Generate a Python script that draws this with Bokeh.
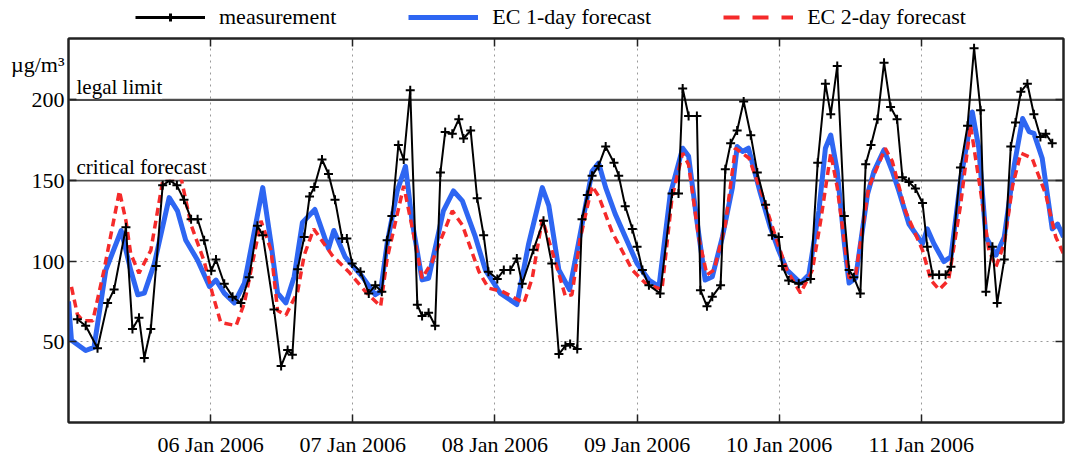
import numpy as np
import pandas as pd
from bokeh.plotting import figure
from bokeh.layouts import column
from bokeh.models import (Range1d, FixedTicker, DaysTicker, DatetimeTickFormatter,
                          LinearAxis, DatetimeAxis, Span, Label, Legend, LegendItem)
from bokeh.embed import file_html
from bokeh.resources import INLINE

# time axis: hours after 05 Jan 2006 00:00
start = pd.Timestamp("2006-01-05 00:00")
end = pd.Timestamp("2006-01-12 00:00")

meas_hours = [
    1.5, 2.9, 4.9, 6.6, 7.7, 9.7, 10.8, 11.9, 12.8, 13.9,
    14.8, 15.9, 17.1, 18.3, 19.5, 20.7, 21.8, 22.9, 24.1, 24.9,
    26.3, 27.7, 29.1, 30.5, 31.9, 32.8, 34.7, 35.9, 37.0, 37.8,
    38.7, 39.8, 40.7, 41.5, 42.8, 43.9, 45.0, 46.2, 47.0, 47.9,
    49.3, 50.7, 51.8, 52.9, 53.8, 54.6, 55.7, 56.6, 57.7, 58.9,
    59.7, 60.8, 61.9, 62.8, 63.6, 64.8, 65.9, 66.7, 67.9, 69.0,
    70.1, 70.9, 72.4, 73.5, 74.6, 75.7, 76.6, 78.5, 80.2, 81.6,
    82.8, 83.9, 84.7, 85.9, 86.7, 87.6, 88.4, 89.5, 90.7, 92.1,
    92.9, 94.0, 95.2, 96.0, 96.9, 98.0, 99.9, 101.9, 103.0, 103.7,
    104.7, 106.1, 106.7, 107.8, 108.7, 110.1, 110.9, 111.8, 112.9, 114.0,
    115.2, 116.3, 117.7, 118.8, 119.9, 120.5, 121.6, 123.3, 125.3, 126.5,
    127.8, 128.7, 129.8, 131.0, 131.8, 132.6, 133.7, 134.6, 135.5, 136.6,
    137.7, 138.8, 139.9, 140.8, 141.9, 143.0, 144.2, 145.0, 145.9, 147.0,
    148.1, 149.0, 150.6, 151.8, 152.9, 154.0, 154.9, 156.0, 156.8, 158.0,
    159.1, 159.9, 160.8, 161.9, 163.0, 164.1, 165.0, 166.1,
]
meas_values = [
    64, 60, 46, 74, 82.5, 121, 58, 65, 40, 58,
    97, 147, 150, 147, 138, 126, 126, 113, 94, 101,
    86, 78, 74, 90, 122, 116, 70, 35, 45, 42,
    95, 115, 140, 146, 163, 154, 138, 114, 114, 98.5,
    93.5, 80, 85, 81, 113, 128, 172, 163, 206, 73,
    66, 68, 60, 155, 180, 179, 188, 176, 181, 139,
    116, 93.5, 89, 94.5, 94.5, 101.6, 86, 107, 125, 98.5,
    42.4, 47.5, 48.6, 45.5, 126, 141, 153, 159, 171, 161,
    153, 134, 120, 109, 94.5, 85, 80, 142, 142, 207,
    190, 190, 82, 72, 78, 85, 157, 173, 181, 199,
    178, 155, 135, 116, 115, 97, 88, 86, 89, 161,
    210, 191, 221, 128, 94.5, 90, 80, 160, 172, 188,
    223, 195.5, 188, 152, 149, 145, 136, 109, 91.5, 91.5,
    91.5, 96.6, 158, 184, 232, 193.5, 81, 109, 74, 101,
    171, 186, 205, 210, 191, 177, 179, 173,
]

ec1_hours = [
    0, 0.5, 2.9, 4.3, 6.3, 8.9, 10.5, 11.7, 12.8, 14.5,
    17.0, 18.4, 19.8, 21.8, 23.8, 24.9, 26.3, 28.0, 29.7, 32.8,
    34.2, 35.3, 36.7, 38.1, 39.5, 41.6, 43.9, 44.8, 46.7, 49.6,
    51.8, 52.7, 53.8, 55.5, 56.9, 58.0, 59.7, 60.8, 63.3, 65.0,
    66.5, 68.7, 70.4, 72.9, 75.7, 77.7, 80.0, 81.1, 82.8, 84.6,
    86.1, 88.4, 89.5, 90.7, 92.3, 96.0, 98.0, 99.7, 101.6, 103.7,
    104.7, 106.1, 107.5, 108.7, 110.4, 112.1, 112.9, 113.8, 114.8, 116.8,
    118.5, 119.9, 121.3, 123.6, 125.0, 126.7, 127.8, 128.7, 129.8, 131.0,
    131.8, 132.9, 134.9, 136.0, 137.7, 139.1, 140.2, 141.9, 144.2, 145.0,
    146.1, 147.8, 149.0, 150.6, 152.6, 153.7, 154.9, 156.6, 158.0, 159.7,
    161.1, 162.2, 163.0, 164.4, 166.1, 167.0, 168.0,
]
ec1_values = [
    75, 51, 44.6, 46.6, 94.5, 119, 94.5, 79.2, 80.2, 98.5,
    139.4, 131.2, 112.9, 100.6, 84.3, 88.3, 80.2, 74.1, 86.3, 145.6,
    110.9, 80.2, 74.1, 90.4, 124, 132, 107.8, 119, 102.7, 90.4,
    79.2, 81.3, 110.9, 143.5, 158.8, 125.1, 88.4, 89.4, 131.2, 143.5,
    137.4, 115, 94.5, 80.2, 73.1, 110.9, 145.6, 134.4, 94.5, 82.3,
    110.9, 155.7, 160.8, 145.6, 129.3, 98.5, 88.3, 84.3, 141.4, 170,
    165, 125.1, 88.3, 90.4, 114.9, 145.6, 171, 168, 170, 142.4,
    121, 106.7, 94.5, 86.4, 91.5, 131.2, 170, 178.2, 155.7, 110.9,
    86.4, 89.4, 141.4, 155.7, 169, 155.7, 143.5, 123, 110.9, 120,
    110.9, 99.7, 102.7, 149.7, 192.5, 170, 115, 103.7, 115, 159.8,
    188.4, 180.2, 179.2, 163.8, 120, 123, 115,
]

ec2_hours = [
    0.5, 1.5, 2.4, 4.1, 6.0, 8.6, 9.7, 10.5, 11.9, 13.9,
    15.9, 19.0, 20.7, 22.9, 24.3, 25.7, 28.3, 29.7, 32.5, 34.2,
    35.3, 36.7, 38.7, 39.8, 41.4, 44.5, 47.3, 50.1, 52.7, 53.8,
    56.6, 58.3, 59.7, 61.4, 64.8, 66.5, 69.3, 70.9, 73.2, 76.9,
    78.3, 80.0, 82.2, 83.9, 85.0, 86.4, 88.4, 89.5, 91.8, 95.2,
    97.4, 100.2, 101.9, 103.7, 104.7, 106.4, 107.8, 109.0, 110.9, 112.6,
    114.9, 117.1, 119.4, 121.3, 123.6, 125.6, 127.0, 128.7, 129.8, 131.8,
    132.9, 135.1, 137.9, 139.1, 141.3, 144.2, 145.6, 147.0, 148.6, 150.6,
    152.3, 154.0, 155.4, 156.6, 158.0, 159.4, 160.8, 162.7, 165.0, 166.7,
    168.0,
]
ec2_values = [
    84, 67, 63, 63, 94.5, 143.5, 125, 104.7, 92.5, 106.7,
    149.7, 151.7, 122.4, 100, 80, 62, 60, 74.1, 125, 106.7,
    69.5, 66.5, 81.2, 103.7, 120, 103.7, 93.5, 81.3, 72, 101.6,
    146.6, 116, 89.4, 99.6, 131.2, 122.4, 93.5, 83.3, 81.3, 74.1,
    89.4, 126, 99.6, 78.2, 79.2, 114, 146.6, 140.4, 118, 94.5,
    86.4, 82.3, 139.4, 167, 159.8, 114.9, 91.5, 94.5, 122.4, 170,
    163.8, 141.4, 114.9, 94.5, 80.2, 94.5, 125, 166.9, 145.6, 89.4,
    91.4, 145.6, 170, 161.8, 131.2, 106.7, 88.3, 82.3, 88.3, 134.3,
    184.3, 143.5, 106.7, 96.6, 110.9, 146.6, 166.9, 163.8, 141.4, 114.9,
    104.7,
]

day_ticks = [6, 7, 8, 9, 10, 11]
value_ticks = [50, 100, 150, 200]
legal_limit = 200
critical_forecast = 150
unit_label_level = 222

SERIF = "Liberation Serif"
BLUE = "#2E66F2"
RED = "#F52A2A"


def to_time(hours):
    return start + pd.to_timedelta(np.asarray(hours, dtype=float), unit="h")


x0_ms = start.timestamp() * 1000.0
t_meas, t_ec1, t_ec2 = to_time(meas_hours), to_time(ec1_hours), to_time(ec2_hours)

# ---- main chart -----------------------------------------------------------
p = figure(width=1069, height=427, x_axis_type="datetime",
           x_range=Range1d(start, end), y_range=Range1d(0, 238),
           output_backend="svg", toolbar_location=None,
           min_border_left=68, min_border_right=6,
           min_border_top=6, min_border_bottom=33,
           background_fill_color="white", border_fill_color="white",
           outline_line_color="#222222", outline_line_width=2)

# dotted grid
p.xgrid.ticker = DaysTicker(days=day_ticks)
p.ygrid.ticker = FixedTicker(ticks=value_ticks)
for g in (p.xgrid, p.ygrid):
    g.grid_line_color = "#9a9a9a"
    g.grid_line_dash = "2 4"
    g.grid_line_width = 1

fmt = DatetimeTickFormatter(days="%d %b %Y", months="%d %b %Y", hours="%d %b %Y",
                            years="%d %b %Y")


def style_ticks(ax):
    ax.major_tick_in = 8
    ax.major_tick_out = 0
    ax.minor_tick_line_color = None
    ax.axis_line_color = "#222222"
    ax.axis_line_width = 2
    ax.major_tick_line_color = "#222222"
    ax.major_tick_line_width = 1.5


def hide_labels(ax):
    ax.major_label_text_font_size = "1px"
    ax.major_label_text_color = None
    ax.major_label_standoff = 0


# bottom axis with the date labels
p.xaxis.ticker = DaysTicker(days=day_ticks)
p.xaxis.formatter = fmt
style_ticks(p.xaxis[0])
p.xaxis.major_label_text_font = SERIF
p.xaxis.major_label_text_font_size = "22px"
p.xaxis.major_label_text_color = "black"
p.xaxis.major_label_standoff = 9

# left edge: inward tick marks next to the frame ...
p.yaxis.ticker = FixedTicker(ticks=value_ticks)
style_ticks(p.yaxis[0])
hide_labels(p.yaxis[0])

# ... and the value labels plus the unit, just outside
value_axis = LinearAxis(ticker=FixedTicker(ticks=value_ticks + [unit_label_level]),
                        major_label_overrides={unit_label_level: "µg/m³"},
                        major_tick_line_color=None, minor_tick_line_color=None,
                        axis_line_color=None, major_tick_in=0, major_tick_out=0,
                        major_label_standoff=4, major_label_text_font=SERIF,
                        major_label_text_font_size="22px",
                        major_label_text_color="black")
p.add_layout(value_axis, "left")

# right and top edges: mirrored tick marks
right_axis = LinearAxis(ticker=FixedTicker(ticks=value_ticks))
style_ticks(right_axis)
hide_labels(right_axis)
p.add_layout(right_axis, "right")

top_axis = DatetimeAxis(ticker=DaysTicker(days=day_ticks), formatter=fmt)
style_ticks(top_axis)
hide_labels(top_axis)
p.add_layout(top_axis, "above")

# threshold lines
for lvl in (legal_limit, critical_forecast):
    p.add_layout(Span(location=lvl, dimension="width", line_color="#4d4d4d",
                      line_width=2.2, level="underlay"))

# series
p.line(t_ec1, ec1_values, line_color=BLUE, line_width=5, line_join="round")
p.line(t_ec2, ec2_values, line_color=RED, line_width=3.5, line_dash="8 5")
p.line(t_meas, meas_values, line_color="black", line_width=2)
p.scatter(t_meas, meas_values, marker="cross", size=9, line_color="black", line_width=2)

# threshold captions
for lvl, txt in ((legal_limit, "legal limit"), (critical_forecast, "critical forecast")):
    p.add_layout(Label(x=x0_ms, y=lvl, text=txt, x_offset=8, y_offset=1,
                       text_baseline="bottom", text_font=SERIF, text_font_size="21px",
                       background_fill_color="white", text_color="black"))

# ---- legend strip above the chart -----------------------------------------
# the key renderers reuse the series data; the strip's tiny value range keeps
# them out of sight so only their legend swatches show
top = figure(width=1069, height=32, x_axis_type="datetime",
             x_range=Range1d(start, end), y_range=Range1d(-2, -1),
             output_backend="svg", toolbar_location=None,
             x_axis_location=None, y_axis_location=None,
             min_border=0, outline_line_color=None,
             background_fill_color="white", border_fill_color="white")
top.grid.visible = False
k_meas = top.line(t_meas, meas_values, line_color="black", line_width=3)
k_pts = top.scatter(t_meas, meas_values, marker="cross", size=11,
                    line_color="black", line_width=3)
k_ec1 = top.line(t_ec1, ec1_values, line_color=BLUE, line_width=5)
k_ec2 = top.line(t_ec2, ec2_values, line_color=RED, line_width=4, line_dash="16 13")

legend = Legend(items=[
    LegendItem(label="measurement", renderers=[k_meas, k_pts]),
    LegendItem(label="EC 1-day forecast", renderers=[k_ec1]),
    LegendItem(label="EC 2-day forecast", renderers=[k_ec2]),
], orientation="horizontal", location=(67, 2), glyph_width=70, glyph_height=20,
    label_standoff=14, spacing=72, padding=0, margin=0, border_line_color=None,
    background_fill_alpha=0, label_text_font=SERIF, label_text_font_size="22px",
    label_text_color="black")
top.add_layout(legend, "center")

open("out.html", "w").write(file_html(column(top, p), INLINE))
